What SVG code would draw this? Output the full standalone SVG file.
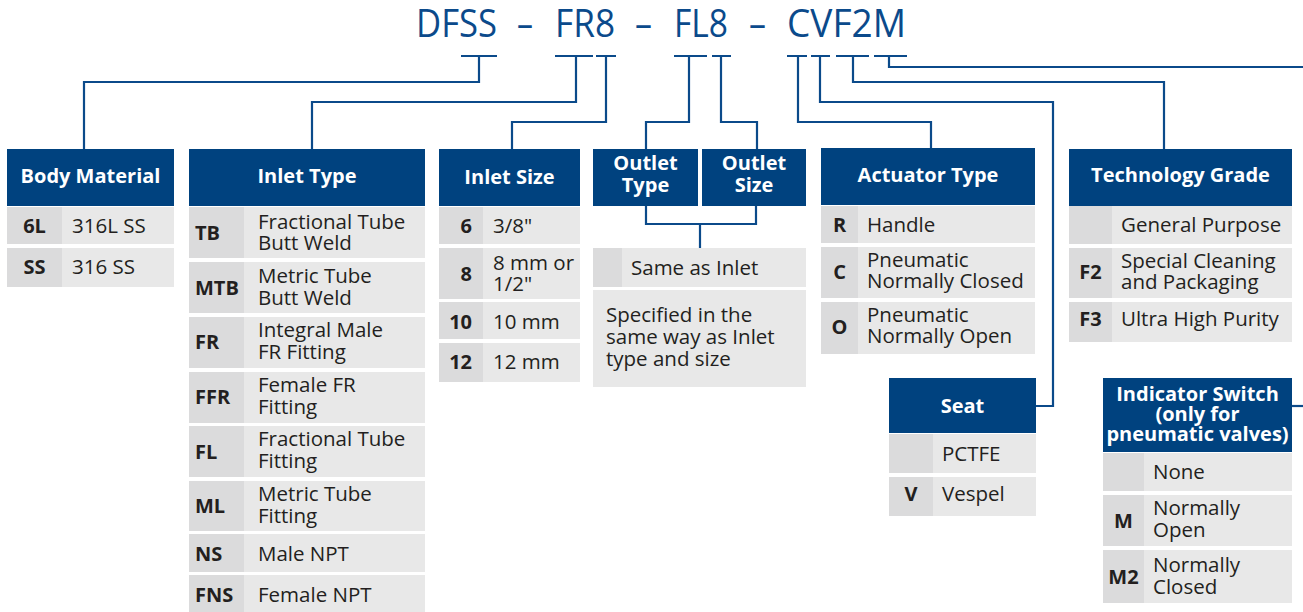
<svg xmlns="http://www.w3.org/2000/svg" width="1303" height="612" viewBox="0 0 1303 612">
<style>
.hd{fill:#00427f}
.ht{font-family:"Open Sans","Liberation Sans",sans-serif;font-weight:700;font-size:20px;fill:#ffffff;text-anchor:middle}
.row{fill:#e8e8e8}
.cc{fill:#dbdbdc}
.cd{font-family:"Open Sans","Liberation Sans",sans-serif;font-weight:700;font-size:20px;fill:#231f20;text-anchor:middle}
.cl{font-family:"Open Sans","Liberation Sans",sans-serif;font-weight:700;font-size:20px;fill:#231f20}
.cr{font-family:"Open Sans","Liberation Sans",sans-serif;font-weight:700;font-size:20px;fill:#231f20;text-anchor:end}
.tx{font-family:"Open Sans","Liberation Sans",sans-serif;font-size:20.5px;fill:#231f20}
.ln{fill:none;stroke:#0b4a8a;stroke-width:2.2}
.tt{font-family:"Open Sans","Liberation Sans",sans-serif;font-size:38px;fill:#0b4a8b}
</style>
<rect width="1303" height="612" fill="#ffffff"/>
<g id="title">
<text class="tt" x="416" y="37" textLength="81" lengthAdjust="spacingAndGlyphs">DFSS</text>
<text class="tt" x="517" y="37" textLength="16" lengthAdjust="spacingAndGlyphs">–</text>
<text class="tt" x="555" y="37" textLength="60" lengthAdjust="spacingAndGlyphs">FR8</text>
<text class="tt" x="635" y="37" textLength="17" lengthAdjust="spacingAndGlyphs">–</text>
<text class="tt" x="674" y="37" textLength="54" lengthAdjust="spacingAndGlyphs">FL8</text>
<text class="tt" x="749" y="37" textLength="17" lengthAdjust="spacingAndGlyphs">–</text>
<text class="tt" x="787" y="37" textLength="119" lengthAdjust="spacingAndGlyphs">CVF2M</text>
</g>
<g id="connectors">
<path class="ln" d="M461 56H497M479 56V82H84V150"/>
<path class="ln" d="M555 56H593M576 56V102H312V150"/>
<path class="ln" d="M596 56H616M606 56V122H512V150"/>
<path class="ln" d="M674 56H707M689 56V122H646V150"/>
<path class="ln" d="M712 56H731M721 56V122H757V150"/>
<path class="ln" d="M787 56H807M798 56V122H931V149"/>
<path class="ln" d="M811 56H830M820 56V102H1053V406H1036"/>
<path class="ln" d="M836 56H869M853 56V82H1164V150"/>
<path class="ln" d="M874 56H907M889 56V67H1303"/>
<path class="ln" d="M1292 406H1303"/>
<path class="ln" d="M646 206V224H756V206M700 224V249"/>
</g>
<g id="body-material">
<rect class="hd" x="7" y="149" width="167" height="57"/>
<text class="ht" x="90.5" y="183">Body Material</text>
<rect class="row" x="7" y="207" width="167" height="37"/><rect class="cc" x="7" y="207" width="55" height="37"/>
<text class="cd" x="34.5" y="233">6L</text><text class="tx" x="72" y="233">316L SS</text>
<rect class="row" x="7" y="248" width="167" height="39"/><rect class="cc" x="7" y="248" width="55" height="39"/>
<text class="cd" x="34.5" y="274">SS</text><text class="tx" x="72" y="274">316 SS</text>
</g>
<g id="inlet-type">
<rect class="hd" x="189" y="149" width="236" height="57"/>
<text class="ht" x="307" y="183">Inlet Type</text>
<rect class="row" x="189" y="207" width="236" height="51"/><rect class="cc" x="189" y="207" width="55" height="51"/>
<text class="cl" x="195" y="240">TB</text><text class="tx" x="258" y="229">Fractional Tube</text><text class="tx" x="258" y="250">Butt Weld</text>
<rect class="row" x="189" y="262" width="236" height="51"/><rect class="cc" x="189" y="262" width="55" height="51"/>
<text class="cl" x="195" y="295">MTB</text><text class="tx" x="258" y="283">Metric Tube</text><text class="tx" x="258" y="305">Butt Weld</text>
<rect class="row" x="189" y="317" width="236" height="51"/><rect class="cc" x="189" y="317" width="55" height="51"/>
<text class="cl" x="195" y="349">FR</text><text class="tx" x="258" y="337">Integral Male</text><text class="tx" x="258" y="359">FR Fitting</text>
<rect class="row" x="189" y="372" width="236" height="51"/><rect class="cc" x="189" y="372" width="55" height="51"/>
<text class="cl" x="195" y="404">FFR</text><text class="tx" x="258" y="392">Female FR</text><text class="tx" x="258" y="414">Fitting</text>
<rect class="row" x="189" y="426" width="236" height="51"/><rect class="cc" x="189" y="426" width="55" height="51"/>
<text class="cl" x="195" y="459">FL</text><text class="tx" x="258" y="446">Fractional Tube</text><text class="tx" x="258" y="468">Fitting</text>
<rect class="row" x="189" y="481" width="236" height="50"/><rect class="cc" x="189" y="481" width="55" height="50"/>
<text class="cl" x="195" y="513">ML</text><text class="tx" x="258" y="501">Metric Tube</text><text class="tx" x="258" y="523">Fitting</text>
<rect class="row" x="189" y="534" width="236" height="38"/><rect class="cc" x="189" y="534" width="55" height="38"/>
<text class="cl" x="195" y="561">NS</text><text class="tx" x="258" y="561">Male NPT</text>
<rect class="row" x="189" y="575" width="236" height="37"/><rect class="cc" x="189" y="575" width="55" height="37"/>
<text class="cl" x="195" y="602">FNS</text><text class="tx" x="258" y="602">Female NPT</text>
</g>
<g id="inlet-size">
<rect class="hd" x="439" y="149" width="141" height="57"/>
<text class="ht" x="509.5" y="184">Inlet Size</text>
<rect class="row" x="439" y="207" width="141" height="37"/><rect class="cc" x="439" y="207" width="44" height="37"/>
<text class="cr" x="472" y="233">6</text><text class="tx" x="493" y="233">3/8"</text>
<rect class="row" x="439" y="248" width="141" height="51"/><rect class="cc" x="439" y="248" width="44" height="51"/>
<text class="cr" x="472" y="281">8</text><text class="tx" x="493" y="270">8 mm or</text><text class="tx" x="493" y="291">1/2"</text>
<rect class="row" x="439" y="302" width="141" height="37"/><rect class="cc" x="439" y="302" width="44" height="37"/>
<text class="cr" x="472" y="329">10</text><text class="tx" x="493" y="329">10 mm</text>
<rect class="row" x="439" y="343" width="141" height="39"/><rect class="cc" x="439" y="343" width="44" height="39"/>
<text class="cr" x="472" y="369">12</text><text class="tx" x="493" y="369">12 mm</text>
</g>
<g id="outlet">
<rect class="hd" x="593" y="149" width="105" height="57"/>
<text class="ht" x="645.5" y="170">Outlet</text><text class="ht" x="645.5" y="192">Type</text>
<rect class="hd" x="702" y="149" width="104" height="57"/>
<text class="ht" x="754" y="170">Outlet</text><text class="ht" x="754" y="192">Size</text>
<rect class="row" x="593" y="248" width="213" height="39"/><rect class="cc" x="593" y="248" width="29" height="39"/>
<text class="tx" x="631" y="275">Same as Inlet</text>
<rect class="row" x="593" y="290" width="213" height="97"/>
<text class="tx" x="606" y="322">Specified in the</text><text class="tx" x="606" y="344">same way as Inlet</text><text class="tx" x="606" y="366">type and size</text>
</g>
<g id="actuator-type">
<rect class="hd" x="821" y="148" width="214" height="57"/>
<text class="ht" x="928" y="182">Actuator Type</text>
<rect class="row" x="821" y="206" width="214" height="37"/><rect class="cc" x="821" y="206" width="37" height="37"/>
<text class="cd" x="839.5" y="232">R</text><text class="tx" x="867" y="232">Handle</text>
<rect class="row" x="821" y="247" width="214" height="51"/><rect class="cc" x="821" y="247" width="37" height="51"/>
<text class="cd" x="839.5" y="279">C</text><text class="tx" x="867" y="267">Pneumatic</text><text class="tx" x="867" y="288">Normally Closed</text>
<rect class="row" x="821" y="302" width="214" height="52"/><rect class="cc" x="821" y="302" width="37" height="52"/>
<text class="cd" x="839.5" y="334">O</text><text class="tx" x="867" y="322">Pneumatic</text><text class="tx" x="867" y="343">Normally Open</text>
</g>
<g id="technology-grade">
<rect class="hd" x="1069" y="149" width="223" height="57"/>
<text class="ht" x="1180.5" y="182">Technology Grade</text>
<rect class="row" x="1069" y="206" width="223" height="38"/><rect class="cc" x="1069" y="206" width="43" height="38"/>
<text class="tx" x="1121" y="232">General Purpose</text>
<rect class="row" x="1069" y="248" width="223" height="50"/><rect class="cc" x="1069" y="248" width="43" height="50"/>
<text class="cd" x="1090.5" y="279">F2</text><text class="tx" x="1121" y="268">Special Cleaning</text><text class="tx" x="1121" y="289">and Packaging</text>
<rect class="row" x="1069" y="302" width="223" height="40"/><rect class="cc" x="1069" y="302" width="43" height="40"/>
<text class="cd" x="1090.5" y="326">F3</text><text class="tx" x="1121" y="326">Ultra High Purity</text>
</g>
<g id="seat">
<rect class="hd" x="889" y="378" width="147" height="55"/>
<text class="ht" x="962.5" y="413">Seat</text>
<rect class="row" x="889" y="434" width="147" height="39"/><rect class="cc" x="889" y="434" width="44" height="39"/>
<text class="tx" x="942" y="461">PCTFE</text>
<rect class="row" x="889" y="477" width="147" height="39"/><rect class="cc" x="889" y="477" width="44" height="39"/>
<text class="cd" x="911" y="501">V</text><text class="tx" x="942" y="501">Vespel</text>
</g>
<g id="indicator-switch">
<rect class="hd" x="1103" y="378" width="189" height="74"/>
<text class="ht" x="1197.5" y="401">Indicator Switch</text><text class="ht" x="1197.5" y="421">(only for</text><text class="ht" x="1197.5" y="441">pneumatic valves)</text>
<rect class="row" x="1103" y="453" width="189" height="38"/><rect class="cc" x="1103" y="453" width="41" height="38"/>
<text class="tx" x="1153" y="479">None</text>
<rect class="row" x="1103" y="495" width="189" height="51"/><rect class="cc" x="1103" y="495" width="41" height="51"/>
<text class="cd" x="1123.5" y="528">M</text><text class="tx" x="1153" y="515">Normally</text><text class="tx" x="1153" y="537">Open</text>
<rect class="row" x="1103" y="550" width="189" height="53"/><rect class="cc" x="1103" y="550" width="41" height="53"/>
<text class="cd" x="1123.5" y="584">M2</text><text class="tx" x="1153" y="572">Normally</text><text class="tx" x="1153" y="594">Closed</text>
</g>
</svg>
